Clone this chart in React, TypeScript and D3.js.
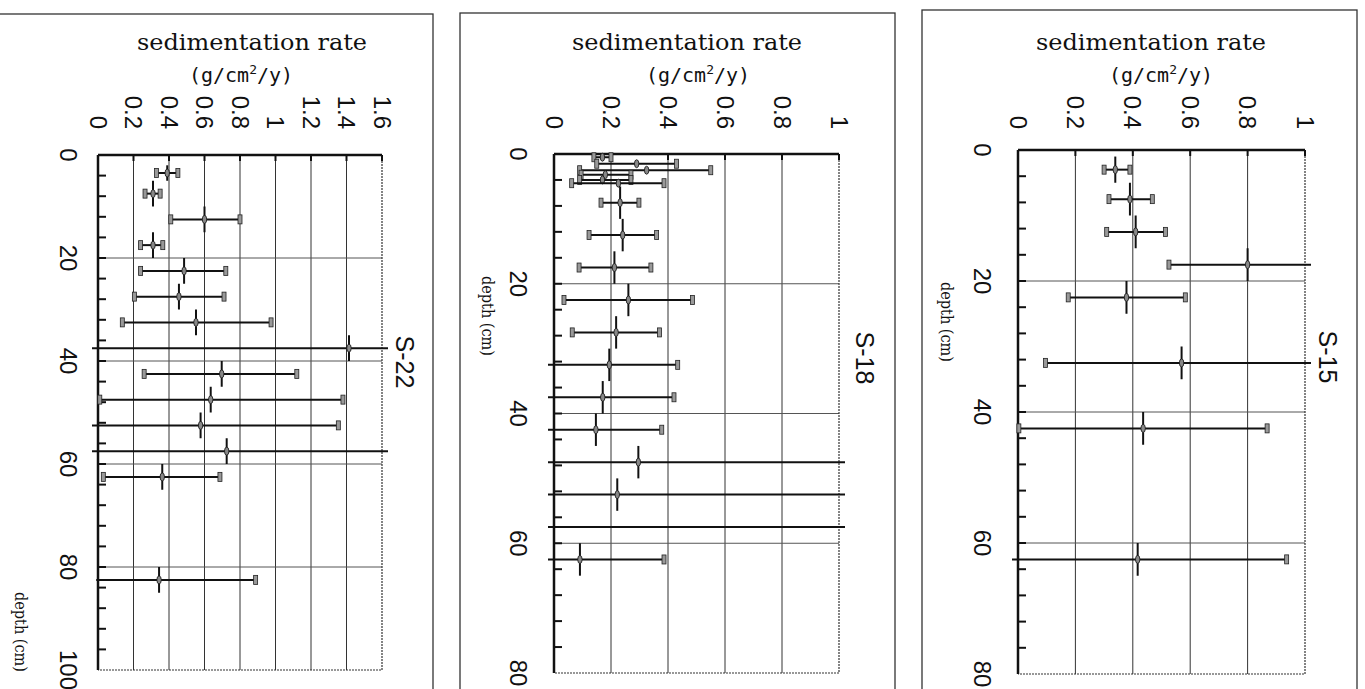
import React, { useEffect, useRef } from "react";
import * as d3 from "d3";

// one row = [depth top (cm), depth bottom (cm), rate, lower, upper]
type Row = [number, number, number, number, number];

const s22Rows: Row[] = [
  [2, 5, 0.39, 0.33, 0.45],
  [5, 10, 0.31, 0.265, 0.35],
  [10, 15, 0.6, 0.41, 0.8],
  [15, 20, 0.31, 0.24, 0.365],
  [20, 25, 0.485, 0.24, 0.72],
  [25, 30, 0.456, 0.205, 0.71],
  [30, 35, 0.552, 0.137, 0.975],
  [35, 40, 1.414, -0.1, 1.75],
  [40, 45, 0.697, 0.26, 1.12],
  [45, 50, 0.635, 0.01, 1.38],
  [50, 55, 0.578, -0.05, 1.354],
  [55, 60, 0.725, -0.1, 1.75],
  [60, 65, 0.362, 0.03, 0.687],
  [80, 85, 0.344, -0.01, 0.888],
];

const s18Rows: Row[] = [
  [0, 1, 0.17, 0.14, 0.2],
  [1, 2, 0.29, 0.15, 0.43],
  [2, 3, 0.325, 0.09, 0.55],
  [2.7, 3.7, 0.18, 0.095, 0.27],
  [3.5, 4.5, 0.17, 0.09, 0.27],
  [4, 5, 0.226, 0.062, 0.386],
  [5, 10, 0.232, 0.165, 0.298],
  [10, 15, 0.241, 0.123, 0.36],
  [15, 20, 0.212, 0.088, 0.34],
  [20, 25, 0.261, 0.035, 0.486],
  [25, 30, 0.218, 0.064, 0.37],
  [30, 35, 0.194, -0.1, 0.434],
  [35, 40, 0.171, -0.1, 0.421],
  [40, 45, 0.147, -0.1, 0.378],
  [45, 50, 0.296, -0.1, 1.1],
  [50, 55, 0.222, -0.1, 1.1],
  [55, 60, 1.1, -0.1, 1.1],
  [60, 65, 0.091, -0.1, 0.386],
];

const s15Rows: Row[] = [
  [1, 5, 0.339, 0.3, 0.39],
  [5, 10, 0.39, 0.317, 0.468],
  [10, 15, 0.41, 0.309, 0.514],
  [15, 20, 0.8, 0.526, 1.1],
  [20, 25, 0.378, 0.175, 0.583],
  [30, 35, 0.57, 0.096, 1.1],
  [40, 45, 0.436, 0.003, 0.868],
  [60, 65, 0.417, -0.05, 0.936],
];

const rateTicksWide = [0, 0.2, 0.4, 0.6, 0.8, 1, 1.2, 1.4, 1.6];
const rateTicksNarrow = [0, 0.2, 0.4, 0.6, 0.8, 1];
const depthTicks100 = [0, 20, 40, 60, 80, 100];
const depthTicks80 = [0, 20, 40, 60, 80];

const PANELS = [
  {
    name: "S-22",
    rows: s22Rows,
    rateTicks: rateTicksWide,
    depthTicks: depthTicks100,
    plot: { left: 98, right: 382, top: 155, bottom: 670 },
    frame: { x: -10, y: 14, w: 443, h: 700 },
    titleX: 252,
    unitX: 241,
    depthLabelX: 68,
    depthTitle: { x: 20, y: 632 },
    nameX: 405,
    nameY: 362,
  },
  {
    name: "S-18",
    rows: s18Rows,
    rateTicks: rateTicksNarrow,
    depthTicks: depthTicks80,
    plot: { left: 554, right: 839, top: 154, bottom: 673 },
    frame: { x: 460, y: 13, w: 435, h: 700 },
    titleX: 687,
    unitX: 698,
    depthLabelX: 518,
    depthTitle: { x: 487, y: 316 },
    nameX: 865,
    nameY: 358,
  },
  {
    name: "S-15",
    rows: s15Rows,
    rateTicks: rateTicksNarrow,
    depthTicks: depthTicks80,
    plot: { left: 1018, right: 1305, top: 150, bottom: 674 },
    frame: { x: 922, y: 10, w: 435, h: 700 },
    titleX: 1151,
    unitX: 1161,
    depthLabelX: 982,
    depthTitle: { x: 946, y: 322 },
    nameX: 1328,
    nameY: 357,
  },
];

const SERIF = "'DejaVu Serif', 'Liberation Serif', serif";
const SANS = "'Liberation Sans', Arial, sans-serif";
const SANS_MONO = "'DejaVu Sans Mono', 'Liberation Mono', monospace";

const App: React.FC = () => {
  const svgRef = useRef<SVGSVGElement>(null);

  useEffect(() => {
    if (!svgRef.current) return;
    const svg = d3.select(svgRef.current);
    svg.selectAll("*").remove();

    svg
      .append("rect")
      .attr("width", 1365)
      .attr("height", 689)
      .attr("fill", "#fff");

    PANELS.forEach((p, i) => {
      const w = p.plot.right - p.plot.left;
      const h = p.plot.bottom - p.plot.top;
      const rateMax = p.rateTicks[p.rateTicks.length - 1];
      const depthMax = p.depthTicks[p.depthTicks.length - 1];

      const x = d3.scaleLinear().domain([0, rateMax]).range([0, w]);
      const y = d3.scaleLinear().domain([0, depthMax]).range([0, h]);

      // panel frame
      svg
        .append("rect")
        .attr("x", p.frame.x)
        .attr("y", p.frame.y)
        .attr("width", p.frame.w)
        .attr("height", p.frame.h)
        .attr("fill", "none")
        .attr("stroke", "#333")
        .attr("stroke-width", 1.3);

      // axis title (horizontal), serif fitted to the mono-like width
      svg
        .append("text")
        .attr("x", p.titleX - 115)
        .attr("y", 50)
        .attr("textLength", 230)
        .attr("lengthAdjust", "spacingAndGlyphs")
        .style("font-family", SERIF)
        .style("font-size", "22px")
        .style("fill", "#111")
        .text("sedimentation rate");

      const unit = svg
        .append("text")
        .attr("x", p.unitX)
        .attr("y", 82)
        .attr("text-anchor", "middle")
        .style("font-family", SANS_MONO)
        .style("font-size", "20px")
        .style("fill", "#111");
      unit.append("tspan").text("(g/cm");
      unit
        .append("tspan")
        .attr("dy", -8)
        .style("font-size", "13px")
        .text("2");
      unit.append("tspan").attr("dy", 8).text("/y)");

      // rate tick labels, rotated
      svg
        .append("g")
        .selectAll("text")
        .data(p.rateTicks)
        .join("text")
        .attr(
          "transform",
          (d) => `translate(${p.plot.left + x(d)},129) rotate(90)`,
        )
        .attr("text-anchor", "end")
        .attr("dominant-baseline", "central")
        .style("font-family", SANS)
        .style("font-size", "24px")
        .style("fill", "#111")
        .text((d) => String(d));

      // depth tick labels, rotated
      svg
        .append("g")
        .selectAll("text")
        .data(p.depthTicks)
        .join("text")
        .attr(
          "transform",
          (d) => `translate(${p.depthLabelX},${p.plot.top + y(d)}) rotate(90)`,
        )
        .attr("text-anchor", "middle")
        .attr("dominant-baseline", "central")
        .style("font-family", SANS)
        .style("font-size", "24px")
        .style("fill", "#111")
        .text((d) => String(d));

      svg
        .append("text")
        .attr(
          "transform",
          `translate(${p.depthTitle.x},${p.depthTitle.y - 40}) rotate(90)`,
        )
        .attr("textLength", 80)
        .attr("lengthAdjust", "spacingAndGlyphs")
        .attr("dominant-baseline", "central")
        .style("font-family", SERIF)
        .style("font-size", "16px")
        .style("fill", "#111")
        .text("depth (cm)");

      svg
        .append("text")
        .attr("transform", `translate(${p.nameX},${p.nameY}) rotate(90)`)
        .attr("text-anchor", "middle")
        .attr("dominant-baseline", "central")
        .style("font-family", SANS)
        .style("font-size", "25px")
        .style("fill", "#111")
        .text(p.name);

      const g = svg
        .append("g")
        .attr("transform", `translate(${p.plot.left},${p.plot.top})`);

      // grid
      g.selectAll("line.vgrid")
        .data(p.rateTicks.slice(1, -1))
        .join("line")
        .attr("class", "vgrid")
        .attr("x1", (d) => x(d))
        .attr("x2", (d) => x(d))
        .attr("y1", 0)
        .attr("y2", h)
        .attr("stroke", "#333")
        .attr("stroke-width", 1);

      g.selectAll("line.hgrid")
        .data(p.depthTicks.slice(1, -1))
        .join("line")
        .attr("class", "hgrid")
        .attr("x1", 0)
        .attr("x2", w)
        .attr("y1", (d) => y(d))
        .attr("y2", (d) => y(d))
        .attr("stroke", "#555")
        .attr("stroke-width", 1);

      // dotted right / bottom edges
      g.append("path")
        .attr("d", `M${w},0 L${w},${h} L0,${h}`)
        .attr("fill", "none")
        .attr("stroke", "#333")
        .attr("stroke-width", 1.2)
        .attr("stroke-dasharray", "2,1");

      // top axis with ticks
      g.append("line")
        .attr("x1", 0)
        .attr("x2", w)
        .attr("y1", 0)
        .attr("y2", 0)
        .attr("stroke", "#111")
        .attr("stroke-width", 2.5);
      g.selectAll("line.xtick")
        .data(p.rateTicks)
        .join("line")
        .attr("class", "xtick")
        .attr("x1", (d) => x(d))
        .attr("x2", (d) => x(d))
        .attr("y1", 0)
        .attr("y2", 6)
        .attr("stroke", "#111")
        .attr("stroke-width", 2);

      // left axis with minor ticks every 4 cm
      g.append("line")
        .attr("x1", 0)
        .attr("x2", 0)
        .attr("y1", 0)
        .attr("y2", h)
        .attr("stroke", "#111")
        .attr("stroke-width", 2.5);
      g.selectAll("line.ytick")
        .data(d3.range(4, depthMax, 4))
        .join("line")
        .attr("class", "ytick")
        .attr("x1", 0)
        .attr("x2", 8)
        .attr("y1", (d) => y(d))
        .attr("y2", (d) => y(d))
        .attr("stroke", "#111")
        .attr("stroke-width", 2);

      // error bars
      const clipId = `clip-${i}`;
      g.append("clipPath")
        .attr("id", clipId)
        .append("rect")
        .attr("x", -6)
        .attr("y", -20)
        .attr("width", w + 12)
        .attr("height", h + 40);

      const bars = g
        .append("g")
        .attr("clip-path", `url(#${clipId})`)
        .selectAll("g")
        .data(p.rows)
        .join("g");

      const mid = (d: Row) => y((d[0] + d[1]) / 2);

      bars
        .append("line")
        .attr("x1", (d) => x(d[3]))
        .attr("x2", (d) => x(d[4]))
        .attr("y1", mid)
        .attr("y2", mid)
        .attr("stroke", "#111")
        .attr("stroke-width", 2);

      bars
        .filter((d) => d[3] >= 0)
        .append("rect")
        .attr("x", (d) => x(d[3]) - 2)
        .attr("y", (d) => mid(d) - 4.5)
        .attr("width", 4)
        .attr("height", 9)
        .attr("fill", "#999")
        .attr("stroke", "#222")
        .attr("stroke-width", 0.8);

      bars
        .filter((d) => d[4] <= rateMax)
        .append("rect")
        .attr("x", (d) => x(d[4]) - 2)
        .attr("y", (d) => mid(d) - 4.5)
        .attr("width", 4)
        .attr("height", 9)
        .attr("fill", "#999")
        .attr("stroke", "#222")
        .attr("stroke-width", 0.8);

      bars
        .append("line")
        .attr("x1", (d) => x(d[2]))
        .attr("x2", (d) => x(d[2]))
        .attr("y1", (d) => y(d[0]))
        .attr("y2", (d) => y(d[1]))
        .attr("stroke", "#111")
        .attr("stroke-width", 2);

      bars
        .append("ellipse")
        .attr("cx", (d) => x(d[2]))
        .attr("cy", mid)
        .attr("rx", 2.2)
        .attr("ry", 4)
        .attr("fill", "#888")
        .attr("stroke", "#111")
        .attr("stroke-width", 0.8);
    });
  }, []);

  return (
    <svg
      ref={svgRef}
      width={1365}
      height={689}
      style={{ position: "absolute", left: 0, top: 0, display: "block" }}
    ></svg>
  );
};

export default App;
